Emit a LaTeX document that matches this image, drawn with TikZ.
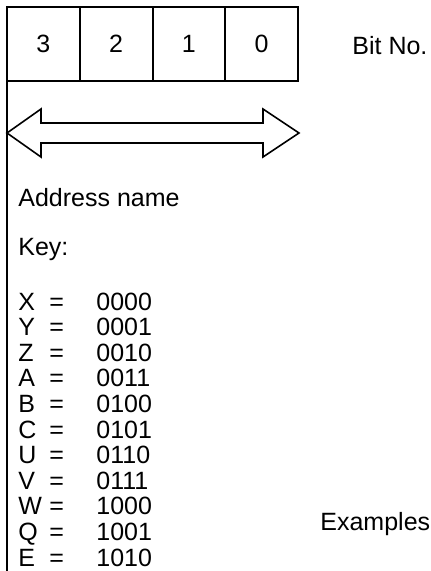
\documentclass[tikz,border=0pt]{standalone}
\usepackage{fontspec}
\setmainfont{Liberation Sans}
\usetikzlibrary{positioning}

\newcommand{\keyrow}[2]{\makebox[15.5pt][l]{#1}\makebox[23.5pt][l]{=}#2}

\begin{document}
\begin{tikzpicture}[
  x=0.5pt, y=-0.5pt,
  bitbox/.style={rectangle, draw, line width=1pt, minimum width=36.375pt,
                 minimum height=37pt, inner sep=0pt, outer sep=0pt,
                 font=\fontsize{12.5}{15}\selectfont},
  txt/.style={inner sep=0pt, anchor=base west, font=\fontsize{12.5}{15}\selectfont},
  rail/.style={line width=1pt},
  span/.style={line width=0.8pt}
]
  \useasboundingbox (0,0) rectangle (430,571);

  \node[bitbox] (b3) at (43.375,44) {3};
  \node[bitbox, right=0pt of b3] (b2) {2};
  \node[bitbox, right=0pt of b2] (b1) {1};
  \node[bitbox, right=0pt of b1] (b0) {0};
  \node[txt] (bitno) at (352,55) {Bit No.};

  \coordinate (railend) at (7,571);
  \draw[rail] (b3.south west) -- (railend);

  % address span arrow
  \draw[span] (7,133) -- (41,109) -- (41,123) -- (263,123) -- (263,109)
    -- (299,133) -- (263,157) -- (263,143) -- (41,143) -- (41,157) -- cycle;

  \node[txt] (addr) at (18,207) {Address name};
  \node[txt] (key)  at (18,256) {Key:};

  \node[txt] (kx) at (18,310)   {\keyrow{X}{0000}};
  \node[txt] (ky) at (18,335.6) {\keyrow{Y}{0001}};
  \node[txt] (kz) at (18,361.2) {\keyrow{Z}{0010}};
  \node[txt] (ka) at (18,386.8) {\keyrow{A}{0011}};
  \node[txt] (kb) at (18,412.4) {\keyrow{B}{0100}};
  \node[txt] (kc) at (18,438)   {\keyrow{C}{0101}};
  \node[txt] (ku) at (18,463.6) {\keyrow{U}{0110}};
  \node[txt] (kv) at (18,489.2) {\keyrow{V}{0111}};
  \node[txt] (kw) at (18,514.8) {\keyrow{W}{1000}};
  \node[txt] (kq) at (18,540.4) {\keyrow{Q}{1001}};
  \node[txt] (ke) at (18,566)   {\keyrow{E}{1010}};

  \node[txt] (examples) at (320,530) {Examples};
\end{tikzpicture}
\end{document}
